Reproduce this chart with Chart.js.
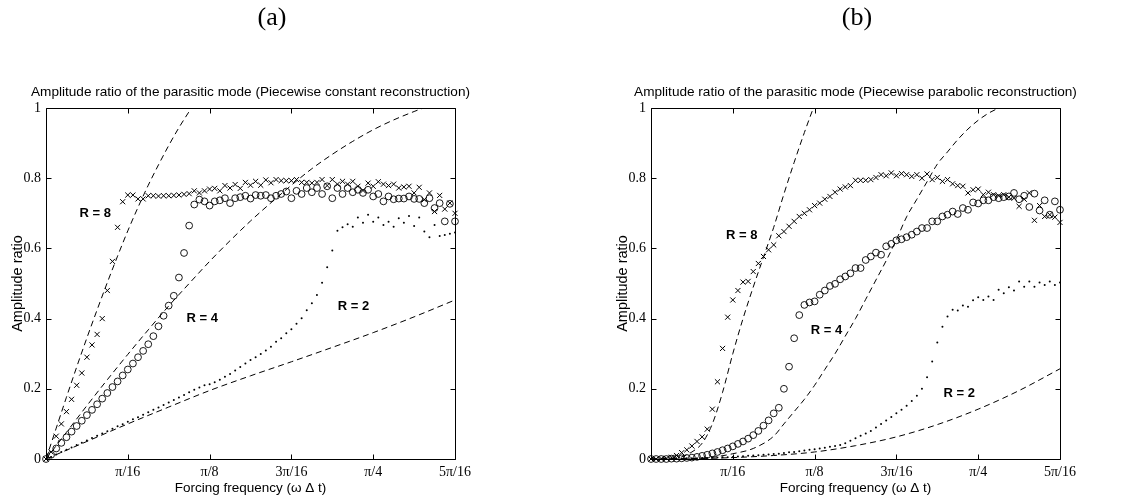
<!DOCTYPE html>
<html>
<head>
<meta charset="utf-8">
<script src="https://cdn.jsdelivr.net/npm/chart.js@4.4.0/dist/chart.umd.min.js"></script>
<style>
  html, body { margin: 0; padding: 0; background: #fff; }
  body { width: 1138px; height: 503px; position: relative; overflow: hidden; }
  .panel { position: absolute; top: 0; }
  #wrapA { left: 0; }
  #wrapB { left: 605px; }
</style>
</head>
<body>
<div class="panel" id="wrapA"><canvas id="chartA" width="533" height="503"></canvas></div>
<div class="panel" id="wrapB"><canvas id="chartB" width="533" height="503"></canvas></div>
<script>
// forcing frequencies are sampled every pi/256, sample index k = 0..80
const step = Math.PI / 256;
const xTicks = [0, Math.PI / 16, Math.PI / 8, 3 * Math.PI / 16, Math.PI / 4, 5 * Math.PI / 16];
const xTickLabels = ['', 'π/16', 'π/8', '3π/16', 'π/4', '5π/16'];
const yTicks = [0, 0.2, 0.4, 0.6, 0.8, 1];

// (a) piecewise constant reconstruction, measured amplitude ratio
const constR8 = [0, .02, .065, .10, .135, .17, .21, .245, .29, .325,
  .355, .40, .48, .563, .66, .733, .752, .752, .741, .741,
  .75, .75, .749, .75, .75, .751, .752, .754, .756,
  .764, .758, .764, .769, .771, .764, .779, .772, .782, .771, .788, .78, .791, .78, .795, .787, .796, .793, .793, .793,
  .796, .788, .788, .786, .788, .796, .779, .796, .783, .791, .783, .791, .777, .765, .786, .777, .79, .783, .779, .783,
  .772, .775, .777, .758, .774, .739, .758, .705, .751, .712, .729, .70];
const constR4 = [0, .012, .03, .046, .062, .078, .094, .109, .125, .14,
  .156, .172, .188, .205, .221, .238, .255, .272, .29, .308,
  .327, .35, .378, .408, .437, .465, .517, .587, .665, .725,
  .739, .734, .722, .734, .737, .743, .729, .743, .746, .75, .742, .752, .75, .752, .743, .75, .755, .762, .743, .764,
  .755, .772, .76, .772, .755, .777, .743, .772, .755, .772, .76, .767, .758, .767, .748, .755, .734, .748, .74, .742,
  .742, .748, .741, .741, .729, .743, .715, .729, .677, .727, .677];
const constR2 = [0, .006, .013, .02, .026, .033, .04, .046, .053, .06,
  .066, .073, .079, .086, .093, .099, .106, .113, .119, .126,
  .133, .14, .147, .154, .161, .168, .175, .182, .19, .197,
  .204, .21, .213, .219, .226, .234, .242, .252, .262, .272,
  .282, .29, .299, .309, .32, .334, .344, .358, .37, .385,
  .401, .424, .444, .467, .502, .546, .594, .65,
  .66, .669, .662, .688, .673, .696, .676, .688, .667, .676, .662, .686, .673, .692, .664, .688, .648, .632, .667, .635,
  .638, .642, .645];

// (a) dashed theoretical curves, sampled at index k
const constTheoryR8k = [0, 2, 4, 6, 8, 10, 12, 14, 16, 18, 20, 22, 24, 26, 28, 30];
const constTheoryR8 = [0, .088, .176, .262, .345, .425, .503, .578, .65, .717, .78, .838, .893, .944, .99, 1.035];
const constTheoryR4k = [0, 4, 8, 12, 16, 20, 24, 28, 32, 36, 40, 44, 48, 52, 56, 60, 64, 68, 72, 76];
const constTheoryR4 = [0, .076, .152, .226, .298, .368, .436, .50, .563, .622, .678, .73, .78, .827, .868, .905, .938, .966, .99, 1.012];
const constTheoryR2k = [0, 8, 16, 24, 32, 40, 48, 56, 64, 72, 80];
const constTheoryR2 = [0, .05, .10, .148, .195, .237, .277, .318, .36, .405, .453];

// (b) piecewise parabolic reconstruction, measured amplitude ratio
const paraR8 = [0, 0, .001, .002, .005, .01, .018, .026, .037, .05,
  .063, .085, .142, .22, .315, .404, .453, .48, .504, .506,
  .534, .557, .577, .596, .61, .636, .648, .663, .677, .691,
  .70, .71, .722, .729, .74, .748, .76, .769, .775, .779,
  .794, .794, .794, .796, .802, .81, .807, .815, .807, .813,
  .81, .805, .81, .80, .812, .796, .802, .791, .796, .784,
  .779, .777, .758, .767, .769, .753, .76, .753, .75, .753,
  .746, .743, .72, .74, .758, .68, .722, .691, .696, .689, .674];
const paraR4 = [0, 0, 0, 0, .001, .001, .002, .003, .004, .006,
  .009, .012, .016, .02, .025, .03, .036, .043, .05, .058,
  .068, .08, .095, .11, .13, .146, .2, .263, .344, .41,
  .439, .446, .449, .468, .48, .493, .499, .512, .52, .529,
  .544, .544, .567, .577, .588, .582, .606, .613, .623, .626,
  .632, .639, .648, .658, .658, .677, .677, .691, .696, .705,
  .698, .715, .71, .731, .728, .737, .737, .746, .743, .746,
  .748, .758, .74, .75, .718, .756, .708, .737, .696, .734, .71];
const paraR2 = [0, 0, 0, 0, .001, .001, .001, .002, .002, .002,
  .003, .003, .004, .004, .005, .005, .006, .007, .008, .009,
  .01, .011, .012, .013, .014, .015, .017, .019, .02, .022,
  .024, .026, .028, .03, .032, .035,
  .037, .04, .045, .052, .059, .066, .073, .08, .09, .10,
  .11, .12, .13, .14, .152, .165, .18, .2, .233, .278,
  .332, .377, .406, .425, .423, .437, .434, .452, .461, .453,
  .463, .453, .482, .472, .489, .48, .506, .491, .506, .491,
  .503, .496, .506, .496, .503];

// (b) dashed theoretical curves
const paraTheoryR8k = [0, 2, 4, 6, 8, 10, 12, 14, 16, 18, 20, 22, 24, 26, 28, 30, 32];
const paraTheoryR8 = [0, 0, .002, .006, .02, .045, .10, .19, .30, .40, .49, .575, .66, .755, .845, .93, 1.01];
const paraTheoryR4k = [0, 8, 12, 16, 20, 24, 26, 28, 30, 32, 34, 36, 38, 40, 42, 44, 46, 48, 50, 52, 54, 56, 58, 60, 62, 64, 66, 68, 70];
const paraTheoryR4 = [0, .001, .005, .015, .03, .065, .10, .135, .17, .21, .255, .30, .35, .40, .455, .51, .565, .625, .69, .74, .79, .84, .875, .91, .94, .965, .985, 1.0, 1.015];
const paraTheoryR2k = [0, 8, 16, 24, 32, 40, 48, 56, 64, 72, 80];
const paraTheoryR2 = [0, .001, .004, .01, .02, .038, .063, .098, .142, .195, .257];

const toPoints = (vals) => vals.map((v, k) => ({ x: k * step, y: v }));
const toCurve = (ks, vals) => ks.map((k, i) => ({ x: k * step, y: vals[i] }));

const dashed = (pts) => ({
  data: pts, showLine: true, pointRadius: 0, borderColor: '#000', borderWidth: 1,
  borderDash: [6, 4], cubicInterpolationMode: 'monotone', fill: false
});
const crosses = (pts) => ({
  data: pts, showLine: false, pointStyle: 'crossRot', pointRadius: 3.6,
  borderColor: '#000', borderWidth: 1, clip: false
});
const circles = (pts) => ({
  data: pts, showLine: false, pointStyle: 'circle', pointRadius: 3.4,
  borderColor: '#000', backgroundColor: 'rgba(0,0,0,0)', borderWidth: 0.9, clip: false
});
const dots = (pts) => ({
  data: pts, showLine: false, pointStyle: 'circle', pointRadius: 1,
  borderWidth: 0, backgroundColor: '#000', clip: false
});

// MATLAB style box with inward ticks on all four sides, plus titles and R labels
const boxPlugin = {
  id: 'matlabBox',
  afterDraw(chart, args, opts) {
    const ctx = chart.ctx;
    const a = chart.chartArea;
    const xs = chart.scales.x, ys = chart.scales.y;
    const L = Math.round(a.left) + 0.5, R = Math.round(a.right) + 0.5;
    const T = Math.round(a.top) + 0.5, B = Math.round(a.bottom) + 0.5;
    ctx.save();
    ctx.strokeStyle = '#000';
    ctx.lineWidth = 1;
    ctx.beginPath();
    ctx.rect(L, T, R - L, B - T);
    xTicks.forEach(v => {
      const px = Math.round(xs.getPixelForValue(v)) + 0.5;
      ctx.moveTo(px, B); ctx.lineTo(px, B - 5);
      ctx.moveTo(px, T); ctx.lineTo(px, T + 5);
    });
    yTicks.forEach(v => {
      const py = Math.round(ys.getPixelForValue(v)) + 0.5;
      ctx.moveTo(L, py); ctx.lineTo(L + 5, py);
      ctx.moveTo(R, py); ctx.lineTo(R - 5, py);
    });
    ctx.stroke();

    ctx.fillStyle = '#000';
    ctx.textAlign = 'center';
    ctx.textBaseline = 'middle';
    ctx.font = '13.6px "Liberation Sans", Arial, sans-serif';
    ctx.fillText(opts.title, (a.left + a.right) / 2, 92);
    ctx.font = '26px "Liberation Serif", "Times New Roman", serif';
    ctx.fillText(opts.panel, opts.panelX, 18);
    ctx.font = 'bold 13px "Liberation Sans", Arial, sans-serif';
    opts.notes.forEach(n => {
      ctx.fillText(n.text, xs.getPixelForValue(n.x), ys.getPixelForValue(n.y));
    });
    ctx.restore();
  }
};

function makeChart(id, datasets, decor) {
  return new Chart(document.getElementById(id), {
    type: 'scatter',
    data: { datasets: datasets },
    plugins: [boxPlugin],
    options: {
      responsive: false,
      animation: false,
      events: [],
      layout: { padding: { top: 108, left: 4, right: 78, bottom: 4 } },
      plugins: { legend: { display: false }, tooltip: { enabled: false }, matlabBox: decor },
      scales: {
        x: {
          type: 'linear', min: 0, max: 5 * Math.PI / 16,
          grid: { display: false, drawTicks: false }, border: { display: false },
          afterBuildTicks: (s) => { s.ticks = xTicks.map(v => ({ value: v })); },
          afterFit: (s) => { s.height = 40; },
          ticks: {
            autoSkip: false, maxRotation: 0, minRotation: 0, padding: 5, color: '#000',
            font: { family: '"Liberation Serif", "Times New Roman", serif', size: 14 },
            callback: (v, i) => xTickLabels[i]
          },
          title: {
            display: true, text: 'Forcing frequency (ω Δ t)', color: '#000',
            font: { family: '"Liberation Sans", Arial, sans-serif', size: 13.5 },
            padding: { top: 0, bottom: 2.9 }
          }
        },
        y: {
          type: 'linear', min: 0, max: 1,
          grid: { display: false, drawTicks: false }, border: { display: false },
          afterBuildTicks: (s) => { s.ticks = yTicks.map(v => ({ value: v })); },
          afterFit: (s) => { s.width = 42; },
          ticks: {
            padding: 5, color: '#000',
            font: { family: '"Liberation Serif", "Times New Roman", serif', size: 14 },
            callback: (v) => (v === 0 || v === 1) ? String(v) : v.toFixed(1)
          },
          title: {
            display: true, text: 'Amplitude ratio', color: '#000',
            font: { family: '"Liberation Sans", Arial, sans-serif', size: 14.5 },
            padding: { top: 5, bottom: 0 }
          }
        }
      }
    }
  });
}

makeChart('chartA', [
  dashed(toCurve(constTheoryR8k, constTheoryR8)),
  dashed(toCurve(constTheoryR4k, constTheoryR4)),
  dashed(toCurve(constTheoryR2k, constTheoryR2)),
  crosses(toPoints(constR8)),
  circles(toPoints(constR4)),
  dots(toPoints(constR2))
], {
  title: 'Amplitude ratio of the parasitic mode (Piecewise constant reconstruction)',
  panel: '(a)', panelX: 272,
  notes: [
    { text: 'R = 8', x: 0.118, y: 0.70 },
    { text: 'R = 4', x: 0.375, y: 0.40 },
    { text: 'R = 2', x: 0.738, y: 0.436 }
  ]
});

makeChart('chartB', [
  dashed(toCurve(paraTheoryR8k, paraTheoryR8)),
  dashed(toCurve(paraTheoryR4k, paraTheoryR4)),
  dashed(toCurve(paraTheoryR2k, paraTheoryR2)),
  crosses(toPoints(paraR8)),
  circles(toPoints(paraR4)),
  dots(toPoints(paraR2))
], {
  title: 'Amplitude ratio of the parasitic mode (Piecewise parabolic reconstruction)',
  panel: '(b)', panelX: 252,
  notes: [
    { text: 'R = 8', x: 0.218, y: 0.638 },
    { text: 'R = 4', x: 0.421, y: 0.365 },
    { text: 'R = 2', x: 0.74, y: 0.188 }
  ]
});
</script>
</body>
</html>
